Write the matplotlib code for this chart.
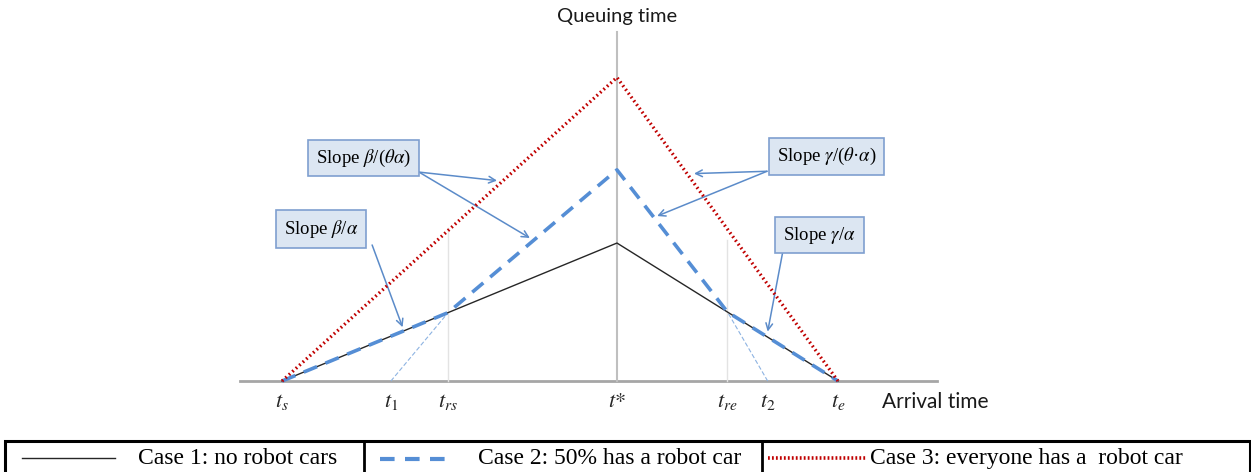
import matplotlib.pyplot as plt
from matplotlib.patches import Rectangle
import numpy as np

plt.rcParams['mathtext.fontset'] = 'stix'

# arrival times (schematic units)
t_names = ['$t_s$', '$t_1$', '$t_{rs}$', '$t$*', '$t_{re}$', '$t_2$', '$t_e$']
t_vals = [0.0, 3.25, 4.96, 10.0, 13.3, 14.5, 16.6]
ts, t1, trs, tstar, tre, t2, te = t_vals

# queuing time of each case
case1_x = [ts, tstar, te]
case1_y = [0.0, 10.0, 0.0]
case2_x = [ts, trs, tstar, tre, te]
case2_y = [0.0, 4.96, 15.3, 5.0, 0.0]
case3_x = [ts, tstar, te]
case3_y = [0.0, 22.0, 0.0]

legend_labels = ['Case 1: no robot cars', 'Case 2: 50% has a robot car',
                 'Case 3: everyone has a  robot car']

blue = '#558ed5'
red = '#c00000'
arrow_c = '#5b8bc9'

fig = plt.figure(figsize=(12.51, 4.72), dpi=100)
ax = fig.add_axes([0, 0, 1, 1])
ax.set_xlim(-8.42, 28.93)
ax.set_ylim(-6.59, 27.61)
ax.axis('off')

# axes of the schematic
ax.plot([-1.25, 19.55], [0, 0], color='#a6a6a6', lw=2, zorder=1)
ax.plot([tstar, tstar], [0, 25.3], color='#bfbfbf', lw=1.5, zorder=1)
ax.plot([trs, trs], [0, 11.1], color='#e3e3e3', lw=1, zorder=1)
ax.plot([tre, tre], [0, 10.2], color='#e3e3e3', lw=1, zorder=1)

# thin extensions of the steep case-2 slopes
ax.plot([t1, trs], [0, case2_y[1]], color='#8db3e2', lw=0.8, ls=(0, (4, 2)), zorder=2)
ax.plot([t2, tre], [0, case2_y[3]], color='#8db3e2', lw=0.8, ls=(0, (4, 2)), zorder=2)

ax.plot(case1_x, case1_y, color='#262626', lw=1, zorder=3)
ax.plot(case2_x, case2_y, color=blue, lw=2.6, ls=(0, (4, 2.5)), zorder=4)
ax.plot(case3_x, case3_y, color=red, lw=2.4, ls=(0, (0.5, 0.9)), zorder=5)

ax.text(tstar, 26.45, 'Queuing time', ha='center', va='center', fontsize=14.5,
        family='Lato', color='#1a1a1a')
ax.text(17.9, -1.55, 'Arrival time', ha='left', va='center', fontsize=15,
        family='Lato', color='#1a1a1a')
for name, t in zip(t_names, t_vals):
    ax.text(t, -1.55, name, ha='center', va='center', fontsize=16,
            family='STIXGeneral', color='#262626')


def line_y(xs, ys, x):
    return np.interp(x, xs, ys)


box = dict(boxstyle='square,pad=0.42', fc='#dce6f2', ec='#7f9fd0', lw=1.2)
arrow = dict(arrowstyle='->', color=arrow_c, lw=1.1, shrinkA=0, shrinkB=0,
             mutation_scale=12)
fs_box = 13.5

# slope beta/(theta alpha)
ax.text(1.01, 16.16, r'Slope $\beta$/($\theta\alpha$)', fontsize=fs_box,
        family='Liberation Serif', ha='left', va='center', bbox=box, zorder=6)
for xa, xs_, ys_, dy in [(6.42, case3_x, case3_y, 0.4), (7.4, case2_x, case2_y, 0.4)]:
    ax.annotate('', xy=(xa, line_y(xs_, ys_, xa) + dy), xytext=(4.09, 15.14),
                arrowprops=arrow)

# slope beta/alpha
ax.text(0.06, 11.0, r'Slope $\beta$/$\alpha$', fontsize=fs_box,
        family='Liberation Serif', ha='left', va='center', bbox=box, zorder=6)
ax.annotate('', xy=(3.6, line_y(case1_x, case1_y, 3.6) + 0.3), xytext=(2.69, 9.86),
            arrowprops=arrow)

# slope gamma/(theta alpha)
ax.text(14.78, 16.3, r'Slope $\gamma$/($\theta$·$\alpha$)', fontsize=fs_box,
        family='Liberation Serif', ha='left', va='center', bbox=box, zorder=6)
for xa, xs_, ys_, dy in [(12.3, case3_x, case3_y, 0.7), (11.2, case2_x, case2_y, 0.4)]:
    ax.annotate('', xy=(xa, line_y(xs_, ys_, xa) + dy), xytext=(14.48, 15.2),
                arrowprops=arrow)

# slope gamma/alpha
ax.text(14.96, 10.58, r'Slope $\gamma$/$\alpha$', fontsize=fs_box,
        family='Liberation Serif', ha='left', va='center', bbox=box, zorder=6)
ax.annotate('', xy=(14.5, line_y(case1_x, case1_y, 14.5) + 0.4), xytext=(14.96, 9.49),
            arrowprops=arrow)

# legend row at the bottom
leg = fig.add_axes([0, 0, 1, 31 / 472])
leg.set_xlim(0, 1251)
leg.set_ylim(0, 1)
leg.axis('off')
leg.add_patch(Rectangle((5, -0.5), 1245, 1.5, fill=False, ec='black', lw=2.2,
                        clip_on=False))
leg.plot([364, 364], [0, 1], color='black', lw=2, clip_on=False)
leg.plot([762, 762], [0, 1], color='black', lw=2, clip_on=False)
leg.plot([22, 115], [0.45, 0.45], color='#262626', lw=1)
leg.plot([380, 455], [0.42, 0.42], color=blue, lw=3, ls=(0, (3.5, 2.5)))
leg.plot([768, 866], [0.45, 0.45], color=red, lw=2.6, ls=(0, (0.5, 0.6)))
leg.text(138, 0.45, legend_labels[0], fontsize=17, family='Liberation Serif', va='center')
leg.text(478, 0.45, legend_labels[1], fontsize=17, family='Liberation Serif', va='center')
leg.text(870, 0.45, legend_labels[2], fontsize=17, family='Liberation Serif', va='center')

fig.savefig('out.png', dpi=100)
